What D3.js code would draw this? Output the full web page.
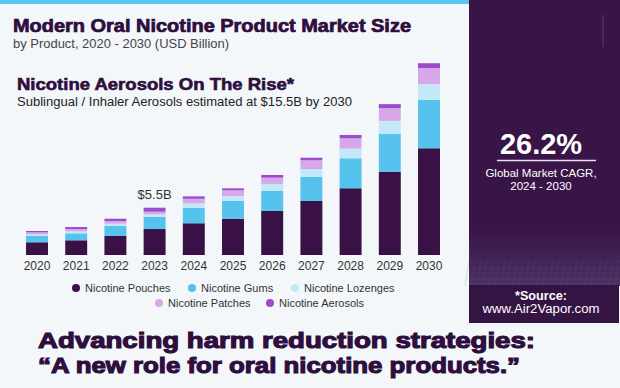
<!DOCTYPE html>
<html><head><meta charset="utf-8">
<script src="https://cdn.jsdelivr.net/npm/d3@7"></script>
<style>
html,body{margin:0;padding:0;background:#f3f7fa;}
svg{display:block;font-family:"Liberation Sans",Arial,sans-serif;}
</style></head>
<body><svg id="c" width="620" height="388"></svg>
<script>
// ---- data (USD billion) ----
const years = ["2020","2021","2022","2023","2024","2025","2026","2027","2028","2029","2030"];
const seriesNames = ["Nicotine Pouches","Nicotine Gums","Nicotine Lozenges","Nicotine Patches","Nicotine Aerosols"];
const pouches   = [1.48,1.71,2.24,3.02,3.69,4.22,5.12,6.28,7.76,9.69,12.41];
const gums      = [0.73,0.81,1.13,1.40,1.81,2.06,2.36,2.79,3.49,4.42,5.62];
const lozenges  = [0.20,0.23,0.27,0.31,0.51,0.58,0.78,0.93,1.12,1.48,1.83];
const patches   = [0.23,0.27,0.31,0.30,0.53,0.66,0.73,1.01,1.20,1.48,1.86];
const aerosols  = [0.15,0.23,0.27,0.47,0.28,0.23,0.31,0.30,0.38,0.47,0.58];
const colors = ["#3a1147","#56c3ef","#c3e8f7","#d7a8e9","#9b4ccb"];
const calloutYear = "2023", calloutLabel = "$5.5B";

const svg = d3.select("#c");
const dark = "#2e0e3d";

// background + top strip
svg.append("rect").attr("x",0).attr("y",0).attr("width",620).attr("height",388).attr("fill","#f3f7fa");
svg.append("rect").attr("x",0).attr("y",0).attr("width",470).attr("height",4).attr("fill","#5cc6ef");

// right panel
const defs = svg.append("defs");
const g1 = defs.append("linearGradient").attr("id","pg").attr("x1",0).attr("y1",0).attr("x2",0).attr("y2",1);
g1.append("stop").attr("offset","0%").attr("stop-color","#381447");
g1.append("stop").attr("offset","80%").attr("stop-color","#381447");
g1.append("stop").attr("offset","100%").attr("stop-color","#4a3264");
svg.append("rect").attr("x",469).attr("y",0).attr("width",151).attr("height",286).attr("fill","url(#pg)");
// subtle grid at bottom of panel
const grid = svg.append("g").attr("stroke","#6c5888").attr("stroke-opacity",0.3).attr("stroke-width",0.6);
for(let i=0;i<5;i++){ const yy=262+i*5.5; grid.append("line").attr("x1",469).attr("x2",620).attr("y1",yy).attr("y2",yy);}
for(let i=0;i<26;i++){ const xx=469+i*6; grid.append("line").attr("x1",xx).attr("x2",xx-4).attr("y1",260).attr("y2",286);}
svg.append("line").attr("x1",603).attr("x2",603).attr("y1",15).attr("y2",47).attr("stroke","#55406a").attr("stroke-width",1);
svg.append("rect").attr("x",469).attr("y",285).attr("width",150).attr("height",38).attr("fill","#351343");

svg.append("text").attr("x",541).attr("y",154).attr("text-anchor","middle").attr("fill","#fff")
  .attr("font-size",29).attr("font-weight","bold").text("26.2%");
svg.append("line").attr("x1",497).attr("x2",596).attr("y1",160.5).attr("y2",160.5).attr("stroke","#e8e0ee").attr("stroke-width",1.5);
svg.append("text").attr("x",541).attr("y",177).attr("text-anchor","middle").attr("fill","#fff")
  .attr("font-size",11.5).text("Global Market CAGR,");
svg.append("text").attr("x",541).attr("y",190).attr("text-anchor","middle").attr("fill","#fff")
  .attr("font-size",11.5).text("2024 - 2030");
svg.append("text").attr("x",541).attr("y",299.5).attr("text-anchor","middle").attr("fill","#fff")
  .attr("font-size",12).attr("font-weight","bold").attr("textLength",52).attr("lengthAdjust","spacingAndGlyphs").text("*Source:");
svg.append("text").attr("x",541).attr("y",313).attr("text-anchor","middle").attr("fill","#fff")
  .attr("font-size",12).attr("textLength",117).attr("lengthAdjust","spacingAndGlyphs").text("www.Air2Vapor.com");

// titles
svg.append("text").attr("x",13).attr("y",32).attr("fill",dark).attr("font-size",17.5).attr("font-weight","bold")
  .attr("stroke",dark).attr("stroke-width",0.7).attr("textLength",398).attr("lengthAdjust","spacingAndGlyphs")
  .text("Modern Oral Nicotine Product Market Size");
svg.append("text").attr("x",13).attr("y",48).attr("fill","#444").attr("font-size",12)
  .attr("textLength",216).attr("lengthAdjust","spacingAndGlyphs")
  .text("by Product, 2020 - 2030 (USD Billion)");
svg.append("text").attr("x",17).attr("y",89.5).attr("fill",dark).attr("font-size",16.5).attr("font-weight","bold")
  .attr("stroke",dark).attr("stroke-width",0.6).attr("textLength",277).attr("lengthAdjust","spacingAndGlyphs")
  .text("Nicotine Aerosols On The Rise*");
svg.append("text").attr("x",17).attr("y",106).attr("fill","#222").attr("font-size",12.5)
  .attr("textLength",335).attr("lengthAdjust","spacingAndGlyphs")
  .text("Sublingual / Inhaler Aerosols estimated at $15.5B by 2030");

// scales
const x = d3.scaleBand().domain(years).range([17.4,448.6]).paddingInner(0.44).paddingOuter(0.22);
const y = d3.scaleLinear().domain([0,25]).range([255,40]);

const rows = years.map((yr,i)=>({year:yr, s0:pouches[i], s1:gums[i], s2:lozenges[i], s3:patches[i], s4:aerosols[i]}));
const stack = d3.stack().keys(["s0","s1","s2","s3","s4"])(rows);

svg.append("g").selectAll("g").data(stack).join("g").attr("fill",(d,i)=>colors[i])
  .selectAll("rect").data(d=>d).join("rect")
  .attr("x",d=>x(d.data.year)).attr("width",x.bandwidth())
  .attr("y",d=>y(d[1])).attr("height",d=>y(d[0])-y(d[1]));

// callout
const ci = years.indexOf(calloutYear);
const ctot = pouches[ci]+gums[ci]+lozenges[ci]+patches[ci]+aerosols[ci];
svg.append("text").attr("x",x(calloutYear)+x.bandwidth()/2).attr("y",y(ctot)-9).attr("text-anchor","middle")
  .attr("fill","#333").attr("font-size",13).text(calloutLabel);

// x axis
const ax = svg.append("g").attr("transform","translate(0,256)")
  .call(d3.axisBottom(x).tickSize(0).tickPadding(5));
ax.select(".domain").remove();
ax.selectAll("text").attr("font-size",12).attr("fill","#333").attr("font-family","Liberation Sans, Arial, sans-serif");

// legend
const legendPos = [[76,288],[192,288],[295,288],[159,303],[270,303]];
const lg = svg.append("g").selectAll("g").data(seriesNames).join("g")
  .attr("transform",(d,i)=>`translate(${legendPos[i][0]},${legendPos[i][1]})`);
lg.append("circle").attr("r",4).attr("fill",(d,i)=>colors[i]);
lg.append("text").attr("x",9).attr("y",4).attr("font-size",11).attr("fill","#333").text(d=>d);

// bottom headline
svg.append("text").attr("x",38).attr("y",347.5).attr("fill",dark).attr("font-size",22).attr("font-weight","bold")
  .attr("stroke",dark).attr("stroke-width",1.1).attr("textLength",497).attr("lengthAdjust","spacingAndGlyphs")
  .text("Advancing harm reduction strategies:");
svg.append("text").attr("x",38).attr("y",372.5).attr("fill",dark).attr("font-size",22).attr("font-weight","bold")
  .attr("stroke",dark).attr("stroke-width",1.1).attr("textLength",482).attr("lengthAdjust","spacingAndGlyphs")
  .text("\u201CA new role for oral nicotine products.\u201D");
</script></body></html>
